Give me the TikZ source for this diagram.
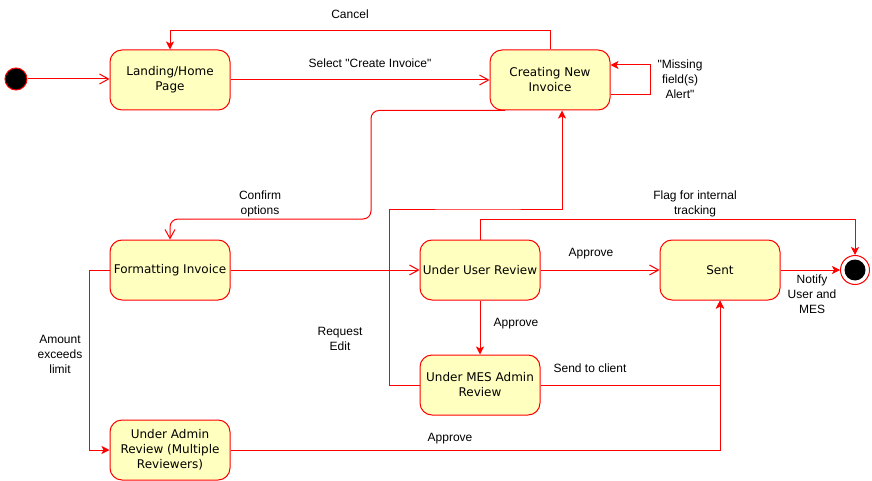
\documentclass[tikz,border=0pt]{standalone}
\usepackage{fontspec}
\setmainfont{Liberation Sans}
\newfontfamily\nodefont{DejaVu Sans}
\usetikzlibrary{arrows.meta}
\definecolor{stroke}{HTML}{FF0000}
\definecolor{statefill}{HTML}{FFFFC0}
\tikzset{
  state/.style={draw=stroke, fill=statefill, line width=1pt, rounded corners=12pt,
    minimum width=120pt, minimum height=60pt, inner sep=0pt, align=center,
    font=\nodefont\fontsize{12}{15}\selectfont},
  lbl/.style={align=center, inner sep=0pt, font=\fontsize{12}{15}\selectfont},
  edge/.style={draw=stroke, line width=1pt},
  opentip/.style={-{Straight Barb[length=9pt,width=10pt,line width=1pt]}},
  filltip/.style={-{Stealth[length=8pt,width=8pt,inset=2pt,fill=stroke]}},
}
\begin{document}
\begin{tikzpicture}[x=1pt, y=-1pt]
\useasboundingbox (0,0) rectangle (872,481);

% states
\node[circle, draw=stroke, fill=black, line width=1pt, minimum size=22pt, inner sep=0pt] (init) at (16,79) {};
\node[state] (landing) at (170,80) {Landing/Home\\Page};
\node[state] (creating) at (550,80) {Creating New\\Invoice};
\node[state] (formatting) at (170,270) {Formatting Invoice};
\node[state] (user) at (480,270) {Under User Review};
\node[state] (sent) at (720,270) {Sent};
\node[state] (mes) at (480,385) {Under MES Admin\\Review};
\node[state] (adminrev) at (170,450) {Under Admin\\Review (Multiple\\Reviewers)};
\node[circle, draw=stroke, fill=white, line width=1pt, minimum size=29pt, inner sep=0pt] (final) at (855,270) {};
\fill[black] (final.center) circle[radius=10.5pt];

% connectors
\draw[edge, opentip] (init) -- (landing.west |- init);
\draw[edge, opentip] (landing) -- (creating);
\draw[edge, filltip] (creating.north) -- ++(0,-19) -| (landing.north);
\draw[edge, filltip] ([yshift=-15pt]creating.east) -- ++(40,0) |- ([yshift=15pt]creating.east);
\draw[edge, opentip, rounded corners=8pt] ([xshift=-45pt]creating.south) -| (371,219) -| (formatting.north);
\draw[edge, opentip] (formatting) -- (user);
\draw[edge, filltip] (formatting.west) -- ++(-20,0) |- (adminrev.west);
\draw[edge, opentip] (user) -- (sent);
\draw[edge, filltip] (user) -- (mes);
\draw[edge, filltip] (user.north) -- ++(0,-20) -| (final.north);
\draw[edge, filltip] (sent) -- (final);
\draw[edge, filltip] (mes.west) -- ++(-30,0) |- (480,209) -| ([xshift=12pt]creating.south);
\draw[edge, filltip] (mes.east) -| (sent.south);
\draw[edge, filltip] (adminrev.east) -| (sent.south);

% labels
\node[lbl] (lcancel) at (350,14) {Cancel};
\node[lbl] (lselect) at (370,63) {Select \textquotedbl Create Invoice\textquotedbl};
\node[lbl] (lmissing) at (680,79) {\textquotedbl Missing\\field(s)\\Alert\textquotedbl};
\node[lbl] (lconfirm) at (260,204) {Confirm\\options};
\node[lbl] (lflag) at (695,204) {Flag for internal\\tracking};
\node[lbl] (lapp1) at (591,254) {Approve};
\node[lbl] (lnotify) at (812,294) {Notify\\User and\\MES};
\node[lbl] (lapp2) at (516,324) {Approve};
\node[lbl] (lamount) at (60,354) {Amount\\exceeds\\limit};
\node[lbl] (lreq) at (340,339) {Request\\Edit};
\node[lbl] (lsend) at (590,368) {Send to client};
\node[lbl] (lapp3) at (450,439) {Approve};
\end{tikzpicture}
\end{document}
